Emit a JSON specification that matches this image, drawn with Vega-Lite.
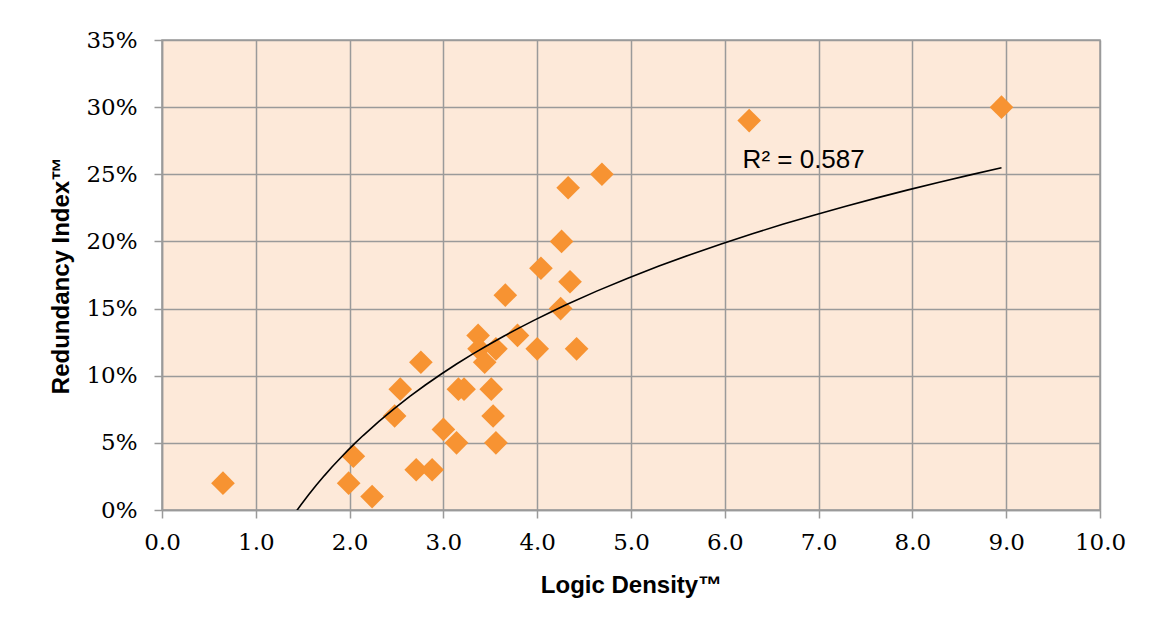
{
  "$schema": "https://vega.github.io/schema/vega-lite/v6.json",
  "autosize": {"type": "none"},
  "width": 938,
  "height": 470,
  "padding": {"left": 162, "top": 40, "right": 51, "bottom": 127},
  "background": "white",
  "config": {
    "view": {"fill": "#FDE9D9", "stroke": "#9a9a9a", "strokeWidth": 1.5},
    "axis": {
      "gridColor": "#9a9a9a",
      "gridWidth": 1.5,
      "gridOpacity": 1,
      "domainColor": "#9a9a9a",
      "domainWidth": 1.5,
      "tickColor": "#9a9a9a",
      "tickWidth": 1.5,
      "tickSize": 8,
      "labelFont": "DejaVu Serif",
      "labelFontSize": 23,
      "labelColor": "#000000",
      "titleFont": "Liberation Sans",
      "titleFontSize": 24,
      "titleFontWeight": "bold",
      "titleColor": "#000000"
    }
  },
  "data": {
    "values": [
      {"density": 0.65, "redundancy": 0.02},
      {"density": 1.99, "redundancy": 0.02},
      {"density": 2.04, "redundancy": 0.04},
      {"density": 2.24, "redundancy": 0.01},
      {"density": 2.48, "redundancy": 0.07},
      {"density": 2.54, "redundancy": 0.09},
      {"density": 2.71, "redundancy": 0.03},
      {"density": 2.76, "redundancy": 0.11},
      {"density": 2.88, "redundancy": 0.03},
      {"density": 3.0, "redundancy": 0.06},
      {"density": 3.14, "redundancy": 0.05},
      {"density": 3.16, "redundancy": 0.09},
      {"density": 3.22, "redundancy": 0.09},
      {"density": 3.37, "redundancy": 0.13},
      {"density": 3.38, "redundancy": 0.12},
      {"density": 3.44, "redundancy": 0.11},
      {"density": 3.51, "redundancy": 0.09},
      {"density": 3.53, "redundancy": 0.07},
      {"density": 3.56, "redundancy": 0.05},
      {"density": 3.56, "redundancy": 0.12},
      {"density": 3.66, "redundancy": 0.16},
      {"density": 3.79, "redundancy": 0.13},
      {"density": 4.0, "redundancy": 0.12},
      {"density": 4.04, "redundancy": 0.18},
      {"density": 4.25, "redundancy": 0.15},
      {"density": 4.26, "redundancy": 0.20},
      {"density": 4.33, "redundancy": 0.24},
      {"density": 4.35, "redundancy": 0.17},
      {"density": 4.42, "redundancy": 0.12},
      {"density": 4.69, "redundancy": 0.25},
      {"density": 6.26, "redundancy": 0.29},
      {"density": 8.95, "redundancy": 0.30}
    ]
  },
  "encoding": {
    "x": {
      "field": "density",
      "type": "quantitative",
      "scale": {"domain": [0, 10], "nice": false, "zero": false},
      "axis": {
        "title": "Logic Density™",
        "values": [0, 1, 2, 3, 4, 5, 6, 7, 8, 9, 10],
        "format": ".1f",
        "labelPadding": 13,
        "labelFlush": false,
        "labelOverlap": false,
        "titleX": 469,
        "titleY": 82,
        "titleAlign": "center",
        "titleAnchor": null,
        "titleBaseline": "alphabetic"
      }
    },
    "y": {
      "field": "redundancy",
      "type": "quantitative",
      "scale": {"domain": [0, 0.35], "nice": false, "zero": false},
      "axis": {
        "title": "Redundancy Index™",
        "values": [0, 0.05, 0.1, 0.15, 0.2, 0.25, 0.3, 0.35],
        "format": ".0%",
        "labelPadding": 17,
        "labelFlush": false,
        "labelOverlap": false,
        "titleX": -101,
        "titleY": 235,
        "titleAngle": 270,
        "titleAlign": "center",
        "titleAnchor": null,
        "titleBaseline": "middle"
      }
    }
  },
  "layer": [
    {
      "mark": {"type": "point", "shape": "diamond", "filled": true, "size": 560, "color": "#F79332", "opacity": 1}
    },
    {
      "transform": [{"regression": "redundancy", "on": "density", "method": "log"}],
      "mark": {"type": "line", "color": "#000000", "strokeWidth": 1.6, "clip": true}
    },
    {
      "data": {"values": [{"density": 6.19, "redundancy": 0.255, "label": "R² = 0.587"}]},
      "mark": {"type": "text", "align": "left", "baseline": "alphabetic", "font": "Liberation Sans", "fontSize": 26, "color": "#000000"},
      "encoding": {"text": {"field": "label"}}
    }
  ]
}
